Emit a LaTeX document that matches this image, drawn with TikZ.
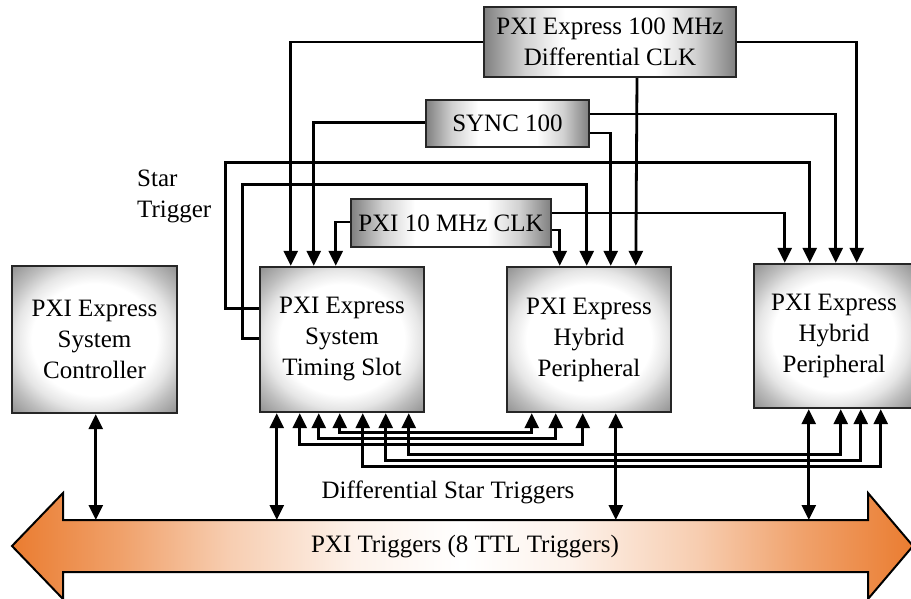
\documentclass[tikz,border=0pt]{standalone}
\usepackage{fontspec}
\setmainfont{Liberation Serif}
\usetikzlibrary{arrows.meta,calc}
\definecolor{busorange}{RGB}{234,124,48}
\pgfdeclareradialshading{boxshade}{\pgfpoint{0bp}{0bp}}{%
  color(0bp)=(white); color(19bp)=(white); color(24bp)=(black!10);
  color(29bp)=(black!26); color(36bp)=(black!45); color(50bp)=(black!50)}
\pgfdeclarehorizontalshading{clkshade}{100bp}{%
  color(0bp)=(black!50); color(25bp)=(black!50); color(33bp)=(black!18);
  color(41bp)=(white); color(59bp)=(white); color(67bp)=(black!18);
  color(75bp)=(black!50); color(100bp)=(black!50)}
\pgfdeclarehorizontalshading{busshade}{100bp}{%
  color(0bp)=(busorange); color(25bp)=(busorange); color(31bp)=(busorange!72!white);
  color(37bp)=(busorange!38!white); color(44bp)=(busorange!10!white); color(50bp)=(white);
  color(56bp)=(busorange!10!white); color(63bp)=(busorange!38!white);
  color(69bp)=(busorange!72!white); color(75bp)=(busorange); color(100bp)=(busorange)}
\tikzset{
  bigbox/.style={draw=black!85, line width=2.4pt, shading=boxshade,
    align=center, font=\fontsize{25}{31}\selectfont, inner sep=0pt},
  clkbox/.style={draw=black!85, line width=2.4pt, shading=clkshade,
    align=center, font=\fontsize{25}{31}\selectfont, inner sep=0pt},
  conn/.style={line width=2.8pt, -{Triangle[width=14pt,length=15pt]}},
  bidir/.style={line width=2.8pt, {Triangle[width=14pt,length=15pt]}-{Triangle[width=14pt,length=15pt]}},
  lbl/.style={font=\fontsize{25}{31}\selectfont, inner sep=0pt}
}
\begin{document}
\begin{tikzpicture}[x=1pt,y=-1pt]
\useasboundingbox (0,0) rectangle (911,599);
\fill[white] (0,0) rectangle (911,599);

% bus arrow
\shade[shading=busshade]
  (12,546) -- (63,493) -- (63,520) -- (868,520) -- (868,493) -- (913,546)
  -- (868,599) -- (868,572) -- (63,572) -- (63,599) -- cycle;
\draw[line width=2pt, line join=miter]
  (12,546) -- (63,493) -- (63,520) -- (868,520) -- (868,493) -- (913,546)
  -- (868,599) -- (868,572) -- (63,572) -- (63,599) -- cycle;
\node[lbl] (bus) at (465,547) {PXI Triggers (8 TTL Triggers)};
\coordinate (bustop) at (0,520);

% boxes
\node[bigbox, minimum width=165pt, minimum height=147pt] (ctrl) at (94.5,339.5)
  {PXI Express\\System\\Controller};
\node[bigbox, minimum width=164pt, minimum height=145pt] (timing) at (342,339.5)
  {PXI Express\\System\\Timing Slot};
\node[bigbox, minimum width=164pt, minimum height=145pt] (hyb1) at (589,339.5)
  {PXI Express\\Hybrid\\Peripheral};
\node[bigbox, minimum width=160pt, minimum height=144pt] (hyb2) at (834,336)
  {PXI Express\\Hybrid\\Peripheral};
\node[clkbox, minimum width=252pt, minimum height=70pt] (clk100) at (610,42)
  {PXI Express 100 MHz\\Differential CLK};
\node[clkbox, minimum width=163pt, minimum height=47pt] (sync) at (507.5,123.5)
  {SYNC 100};
\node[clkbox, minimum width=200pt, minimum height=48pt] (clk10) at (451,223)
  {PXI 10 MHz CLK};

% labels
\node[lbl, anchor=west, align=left] (star) at (137,196) {Star\\Trigger};
\node[lbl] (dst) at (448,492) {Differential Star Triggers};

% clock connectors
\draw[conn] (clk100.west) -| ([xshift=32pt]timing.north west);
\draw[conn] ([xshift=27pt]clk100.south) -- ([xshift=130pt]hyb1.north west);
\draw[conn] (clk100.east) -| ([xshift=104pt]hyb2.north west);
\draw[conn] ([yshift=1pt]sync.west) -| ([xshift=55pt]timing.north west);
\draw[conn] ([yshift=9.5pt]sync.east) -| ([xshift=83pt]hyb2.north west);
\draw[conn] ([yshift=-9.5pt]sync.east) -| ([xshift=105pt]hyb1.north west);
\draw[conn] ([yshift=1pt]clk10.west) -| ([xshift=77pt]timing.north west);
\draw[conn] ([yshift=10pt]clk10.east) -| ([xshift=32pt]hyb2.north west);
\draw[conn] ([yshift=-7pt]clk10.east) -| ([xshift=54pt]hyb1.north west);

% star trigger lines
\draw[conn] ([yshift=31pt]timing.west) -- ++(-33,0) -- ++(0,-146) -| ([xshift=57pt]hyb2.north west);
\draw[conn] ([yshift=1pt]timing.west) -- ++(-16,0) -- ++(0,-154) -| ([xshift=81pt]hyb1.north west);

% differential star triggers
\draw[bidir] ([xshift=81pt]timing.south west) -- ++(0,19) -| ([xshift=26pt]hyb1.south west);
\draw[bidir] ([xshift=60pt]timing.south west) -- ++(0,25) -| ([xshift=50pt]hyb1.south west);
\draw[bidir] ([xshift=41pt]timing.south west) -- ++(0,31) -| ([xshift=77pt]hyb1.south west);
\draw[bidir] ([xshift=150pt]timing.south west) -- ++(0,41) -| ([xshift=88pt]hyb2.south west);
\draw[bidir] ([xshift=127pt]timing.south west) -- ++(0,47) -| ([xshift=108pt]hyb2.south west);
\draw[bidir] ([xshift=104pt]timing.south west) -- ++(0,53) -| ([xshift=128pt]hyb2.south west);

% bus connections
\draw[bidir] ([xshift=85pt]ctrl.south west) coordinate (b1) -- (b1 |- bustop);
\draw[bidir] ([xshift=18pt]timing.south west) coordinate (b2) -- (b2 |- bustop);
\draw[bidir] ([xshift=110pt]hyb1.south west) coordinate (b3) -- (b3 |- bustop);
\draw[bidir] ([xshift=56pt]hyb2.south west) coordinate (b4) -- (b4 |- bustop);
\end{tikzpicture}
\end{document}
